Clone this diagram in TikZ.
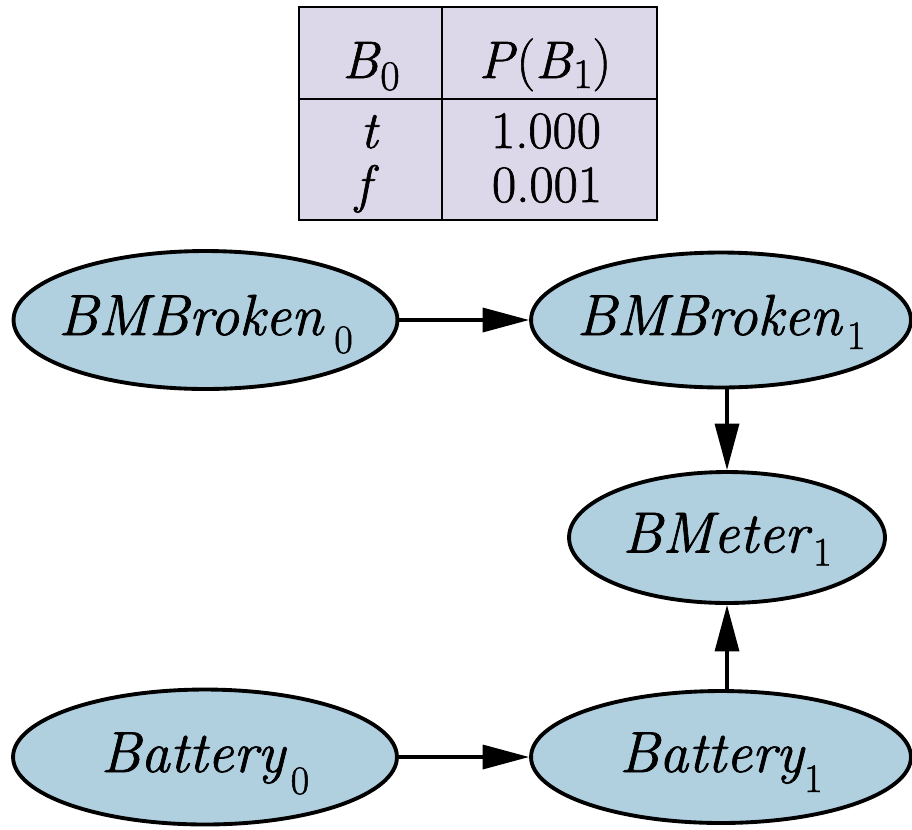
\documentclass[tikz,border=0pt]{standalone}
\usepackage{fontspec}
\setmainfont{Latin Modern Roman}[FakeBold=1.2]
\usetikzlibrary{shapes.geometric,arrows.meta}
\definecolor{nodeblue}{RGB}{176,208,224}
\definecolor{tablelav}{RGB}{221,216,233}
% #1 italic name, #2 subscript digit, #3 gap, #4 drop
\newcommand\sublbl[4]{\textit{#1}\hspace{#3}\raisebox{-#4}{\fontsize{23}{23}\selectfont #2}}
\newcommand\tsub[2]{\raisebox{-#2}{\fontsize{24}{24}\selectfont #1}}
\begin{document}
\begin{tikzpicture}[x=0.02cm,y=-0.02cm,
  bnode/.style={ellipse,draw=black,line width=2.2pt,fill=nodeblue,inner sep=0pt,
    text height=0.8cm,text depth=0.2cm,font=\fontsize{33}{33}\selectfont},
  arr/.style={line width=2pt,-{Triangle[length=9.3mm,width=4.8mm]}},
  tline/.style={line width=1.4pt},
  ttext/.style={anchor=base,inner sep=0pt,font=\fontsize{30}{30}\selectfont},
  htext/.style={anchor=base,inner sep=0pt,font=\fontsize{30}{30}\selectfont}]
\useasboundingbox (0,0) rectangle (912,829);

% CPT table
\draw[tline,fill=tablelav] (299,7) rectangle (657,220);
\draw[tline] (442,7) -- (442,220);
\draw[tline] (299,99) -- (657,99);
\node[htext] (h1) at (371,78) {\textit{B}\tsub{0}{0.24cm}};
\node[htext] (h2) at (545,78) {\textit{P}(\textit{B}\tsub{1}{0.2cm})};
\node[ttext] (r1a) at (370,148) {\textit{t}};
\node[ttext] (r1b) at (546,148) {1.000};
\node[ttext] (r2a) at (367,202) {\textit{f}};
\node[ttext] (r2b) at (547,202) {0.001};

% nodes
\node[bnode,minimum width=7.68cm,minimum height=2.76cm] (bmb0) at (205.5,320)
  {\makebox[0pt]{\sublbl{BMBroken}{0}{0.2cm}{0.36cm}}};
\node[bnode,minimum width=7.6cm,minimum height=2.7cm] (bmb1) at (721,320)
  {\makebox[0pt]{\sublbl{BMBroken}{1}{0.08cm}{0.28cm}}};
\node[bnode,minimum width=6.32cm,minimum height=2.62cm] (bmeter) at (727,537.5)
  {\makebox[0pt]{\sublbl{BMeter}{1}{0.02cm}{0.26cm}}};
\node[bnode,minimum width=7.68cm,minimum height=2.7cm] (bat0) at (205,757)
  {\makebox[0pt]{\sublbl{Battery}{0}{0.08cm}{0.44cm}}};
\node[bnode,minimum width=7.6cm,minimum height=2.64cm] (bat1) at (721,757)
  {\makebox[0pt]{\sublbl{Battery}{1}{-0.02cm}{0.4cm}}};

% arrows
\draw[arr] (bmb0) -- (bmb1);
\draw[arr] (bat0) -- (bat1);
\draw[arr] (bmb1.south -| bmeter.north) -- (bmeter.north);
\draw[arr] (bat1.north -| bmeter.south) -- (bmeter.south);
\end{tikzpicture}
\end{document}
